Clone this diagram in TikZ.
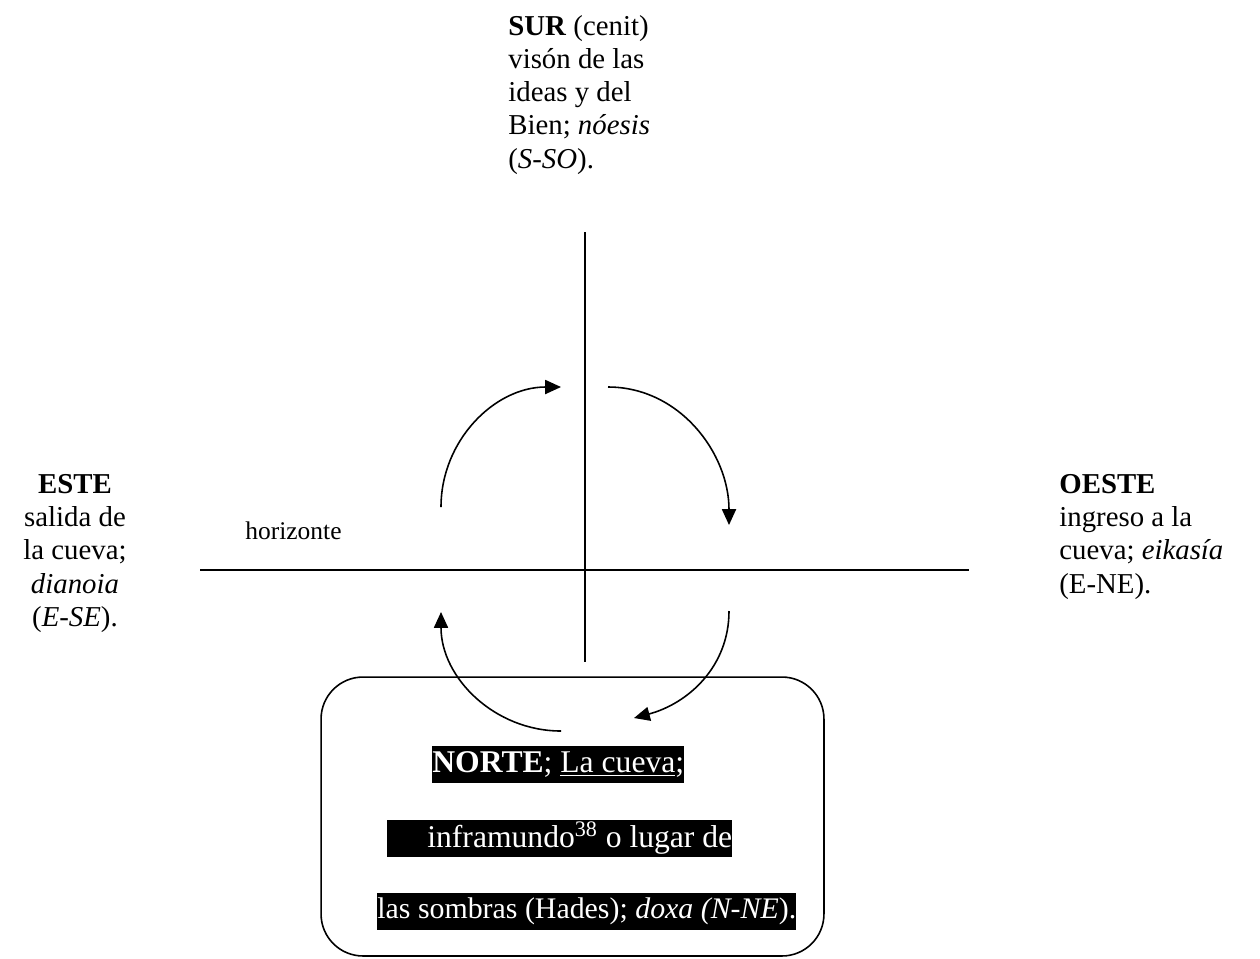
\documentclass[tikz,border=0pt]{standalone}
\usepackage{fontspec}
\setmainfont{Liberation Serif}
\usepackage{tikz}
\usetikzlibrary{positioning,arrows.meta}
\tikzset{
  txt/.style   ={inner sep=0pt, font=\fontsize{16.4}{18.9}\selectfont},
  smalltxt/.style={inner sep=0pt, font=\fontsize{14.5}{16}\selectfont},
  axis/.style  ={draw=black, line width=1pt},
  % one quarter turn of the sun round the horizon
  turn/.style  ={draw=black, line width=0.9pt, -{Triangle[length=9pt,width=8pt]}},
  cavebox/.style={draw, line width=0.9pt, rounded corners=0.84cm,
                 minimum width=10.06cm, minimum height=5.58cm, inner sep=0pt},
  hl/.style    ={inner sep=0pt, fill=black, text=white, minimum height=0.74cm,
                 font=\fontsize{18}{20}\selectfont, anchor=west},
}

\begin{document}
\begin{tikzpicture}[x=0.02cm,y=-0.02cm]
\useasboundingbox (0,0) rectangle (1260,958);
% --- cardinal texts ---
\node[txt,align=left,anchor=north west] (sur) at (508,15)
   {\textbf{SUR} (cenit)\\visón de las\\ideas y del\\Bien; \textit{nóesis}\\(\textit{S-SO}).};
\node[txt,align=center,anchor=north] (este) at (75,474)
   {\textbf{ESTE}\\salida de\\la cueva;\\\textit{dianoia}\\(\textit{E-SE}).};
\node[txt,align=left,anchor=north west] (oeste) at (1059,474)
   {\textbf{OESTE}\\ingreso a la\\cueva; \textit{eikasía}\\(E-NE).};
\node[smalltxt,anchor=west] (horiz) at (245,531) {horizonte};
% --- axes ---
\coordinate (zenit) at (585,232);
\coordinate (nadir) at (585,662);
\coordinate (hzW) at (200,570);
\coordinate (hzE) at (969,570);
\draw[axis] (zenit) -- (nadir);
\draw[axis] (hzW) -- (hzE);
% --- the circuit ---
\coordinate (a1) at (441,507);  \coordinate (a2) at (561,387);
\coordinate (b1) at (608,387);  \coordinate (b2) at (729,525);
\coordinate (c1) at (729,611);  \coordinate (c2) at (634,718);
\coordinate (d1) at (561,731);  \coordinate (d2) at (441,612);
\draw[turn] (a1) to[out=90,in=180] (a2);
\draw[turn] (b1) to[out=0,in=90] (b2);
\draw[turn] (c1) to[out=-90,in=15] (c2);
\draw[turn] (d1) to[out=180,in=-90] (d2);
% --- the cave ---
\node[cavebox] (cueva) at (572.5,816.5) {};
\node[hl] (l1) at (432,764.5) {\textbf{NORTE}; \underline{La cueva};};
\node[hl] (l2) at (387,838.5) {\hspace*{0.8cm}inframundo\textsuperscript{38} o lugar de};
\node[hl,font=\fontsize{17}{19}\selectfont] (l3) at (377,911.5)
   {las sombras (Hades); \textit{doxa (N-NE}).};
\end{tikzpicture}
\end{document}
